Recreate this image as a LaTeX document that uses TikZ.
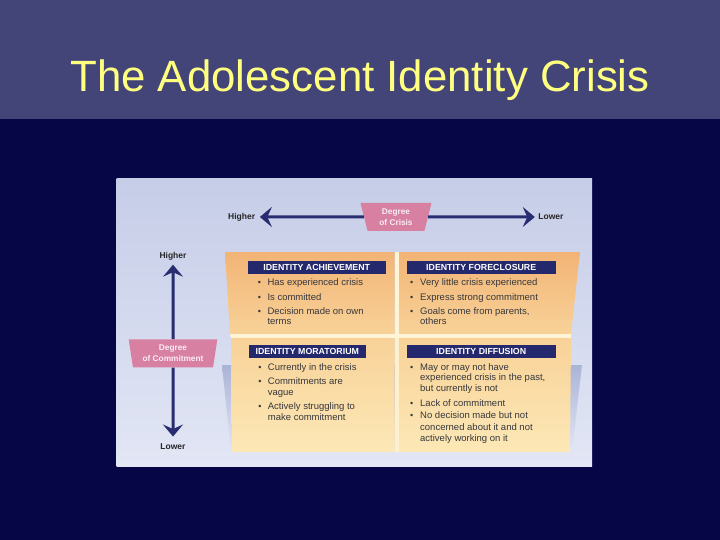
\documentclass[tikz,border=0pt]{standalone}
\usepackage{fontspec}
\setmainfont{Liberation Sans}
\usetikzlibrary{arrows.meta,shapes.geometric}
\definecolor{titleband}{RGB}{67,69,120}
\definecolor{darkbg}{RGB}{6,6,70}
\definecolor{titletext}{RGB}{255,255,128}
\definecolor{paneltop}{RGB}{198,205,231}
\definecolor{panelbot}{RGB}{226,230,245}
\definecolor{navy}{RGB}{40,44,112}
\definecolor{hdr}{RGB}{36,40,108}
\definecolor{pinkbox}{RGB}{216,128,162}
\definecolor{pinktext}{RGB}{250,236,244}
\definecolor{orgtop}{RGB}{242,180,118}
\definecolor{orgmid}{RGB}{248,210,152}
\definecolor{orgbot}{RGB}{252,232,182}
\definecolor{gapc}{RGB}{255,244,214}
\definecolor{shadowc}{RGB}{170,180,214}
\definecolor{txt}{RGB}{55,55,60}
\tikzset{
  arr/.style={draw=navy,line width=3pt,-{Stealth[length=12pt,width=20pt,inset=4.5pt]}},
  axlabel/.style={inner sep=0pt,font=\fontsize{8.5}{10}\selectfont\bfseries,text=black!85},
  degbox/.style={trapezium,trapezium stretches=true,shape border rotate=180,fill=pinkbox,inner sep=0pt,
     text=pinktext,align=center,font=\fontsize{8.3}{10.8}\selectfont\bfseries},
  hdrbox/.style={fill=hdr,text=white,inner sep=0pt,minimum height=13pt,font=\fontsize{8.8}{10}\selectfont\bfseries},
  itm/.style={inner sep=0pt,anchor=base west,text=txt,font=\fontsize{9.5}{10}\selectfont},
  bul/.style={inner sep=0pt,anchor=base,text=txt,font=\fontsize{9}{10}\selectfont}
}
\begin{document}
\begin{tikzpicture}[x=1pt,y=-1pt]
\useasboundingbox (0,0) rectangle (720,540);
% backgrounds
\fill[darkbg] (0,0) rectangle (720,540);
\fill[titleband] (0,0) rectangle (720,119);
\node[text=titletext,inner sep=0pt,anchor=base,font=\fontsize{43.8}{50}\selectfont] (title) at (360,92) {The Adolescent Identity Crisis};
% panel
\shade[top color=paneltop,bottom color=panelbot] (116.5,179) rectangle (592,466);
% shadow of lower row
\shade[top color=shadowc,bottom color=panelbot] (222,365) -- (582,365) -- (572,452) -- (231,452) -- cycle;
% quadrants
\shade[top color=orgtop,bottom color=orgmid] (225,252) -- (394.5,252) -- (394.5,334) -- (230,334) -- cycle;
\shade[top color=orgtop,bottom color=orgmid] (398.5,252) -- (580,252) -- (571,334) -- (398.5,334) -- cycle;
\fill[gapc] (230,334) -- (571,334) -- (571,338) -- (231,338) -- cycle;
\fill[gapc] (394.5,252) rectangle (398.5,334);
\shade[top color=orgmid,bottom color=orgbot] (231,338) -- (394.5,338) -- (394.5,452) -- (232,452) -- cycle;
\shade[top color=orgmid,bottom color=orgbot] (398.5,338) -- (571,338) -- (570,452) -- (398.5,452) -- cycle;
\fill[gapc!70!orgbot] (394.5,338) rectangle (398.5,452);
% crisis axis
\node[degbox,minimum width=71pt,minimum height=28pt,trapezium angle=76] (crisis) at (396,217) {Degree\\of Crisis};
\node[axlabel] (hiC) at (241.7,217) {Higher};
\node[axlabel] (loC) at (551,217) {Lower};
\draw[arr,shorten >=4.5pt] (crisis.west) -- (hiC.east);
\draw[arr,shorten >=3.5pt] (crisis.east) -- (loC.west);
% commitment axis
\node[axlabel] (hiV) at (173,256) {Higher};
\node[axlabel] (loV) at (173,446.7) {Lower};
\node[degbox,minimum width=89pt,minimum height=28pt,trapezium angle=79] (commit) at (173,353.3) {Degree\\of Commitment};
\draw[arr,shorten >=4.5pt] (commit.north) -- (hiV.south);
\draw[arr,shorten >=7pt] (commit.south) -- (loV.north);
% headers
\node[hdrbox,minimum width=138pt] (hA) at (316.7,267.5) {IDENTITY ACHIEVEMENT};
\node[hdrbox,minimum width=149pt] (hF) at (481.2,267.5) {IDENTITY FORECLOSURE};
\node[hdrbox,minimum width=117pt] (hM) at (307.3,351.3) {IDENTITY MORATORIUM};
\node[hdrbox,minimum width=149pt] (hD) at (481.2,351.3) {IDENTITY DIFFUSION};
% achievement items
\node[bul] (bA1) at (259.5,285.5) {•};
\node[itm] (tA1) at (267.3,285.5) {Has experienced crisis};
\node[bul] (bA2) at (259.5,300) {•};
\node[itm] (tA2) at (267.3,300) {Is committed};
\node[bul] (bA3) at (259.5,314) {•};
\node[itm] (tA3) at (267.3,314) {Decision made on own};
\node[itm] (tA3b) at (267.3,324.5) {terms};
% foreclosure items
\node[bul] (bF1) at (411.7,285.5) {•};
\node[itm] (tF1) at (420,285.5) {Very little crisis experienced};
\node[bul] (bF2) at (411.7,300) {•};
\node[itm] (tF2) at (420,300) {Express strong commitment};
\node[bul] (bF3) at (411.7,314) {•};
\node[itm] (tF3) at (420,314) {Goals come from parents,};
\node[itm] (tF3b) at (420,324.5) {others};
% moratorium items
\node[bul] (bM1) at (260,370.5) {•};
\node[itm] (tM1) at (267.7,370.5) {Currently in the crisis};
\node[bul] (bM2) at (260,384.3) {•};
\node[itm] (tM2) at (267.7,384.3) {Commitments are};
\node[itm] (tM2b) at (267.7,395) {vague};
\node[bul] (bM3) at (260,409) {•};
\node[itm] (tM3) at (267.7,409) {Actively struggling to};
\node[itm] (tM3b) at (267.7,420) {make commitment};
% diffusion items
\node[bul] (bD1) at (411.7,370.5) {•};
\node[itm] (tD1) at (420,370.5) {May or may not have};
\node[itm] (tD1b) at (420,380.6) {experienced crisis in the past,};
\node[itm] (tD1c) at (420,391) {but currently is not};
\node[bul] (bD2) at (411.7,406.6) {•};
\node[itm] (tD2) at (420,406.6) {Lack of commitment};
\node[bul] (bD3) at (411.7,418.3) {•};
\node[itm] (tD3) at (420,418.3) {No decision made but not};
\node[itm] (tD3b) at (420,430.6) {concerned about it and not};
\node[itm] (tD3c) at (420,441.6) {actively working on it};
\end{tikzpicture}
\end{document}
